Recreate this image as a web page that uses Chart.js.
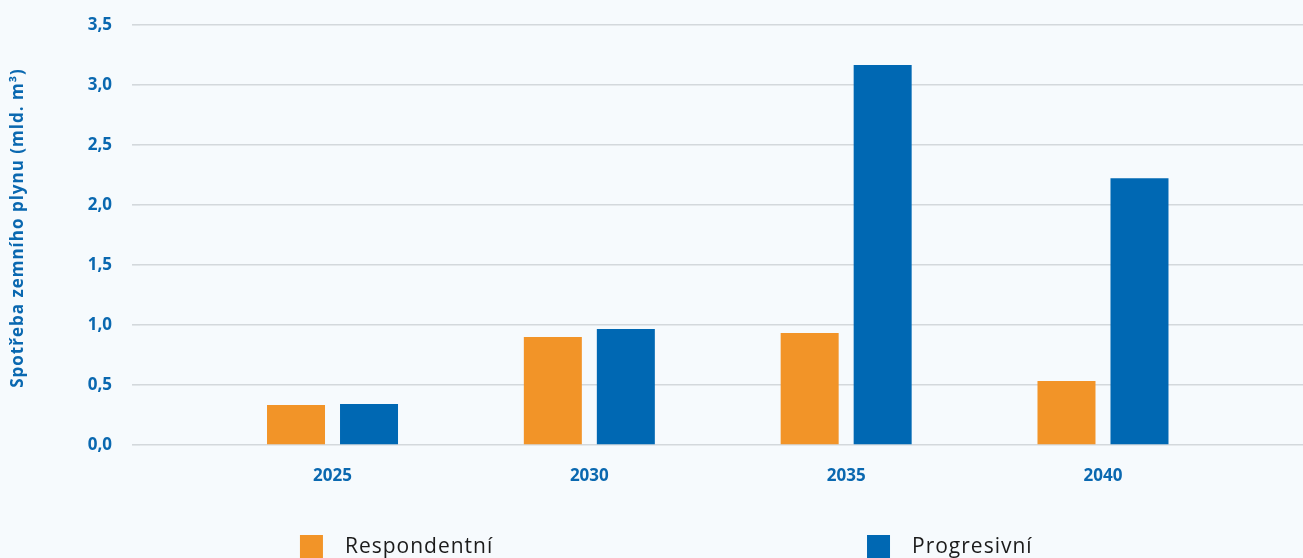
<!DOCTYPE html>
<html lang="cs">
<head>
<meta charset="utf-8">
<script src="https://cdn.jsdelivr.net/npm/chart.js@4/dist/chart.umd.min.js"></script>
<style>
  html, body { margin: 0; padding: 0; background: #f6fafd; overflow: hidden; }
  #wrap { position: relative; width: 1303px; height: 558px; }
</style>
</head>
<body>
<div id="wrap"><canvas id="chart" width="1303" height="558"></canvas></div>
<script>
// Spotřeba zemního plynu podle scénáře
const years = [2025, 2030, 2035, 2040];
const respondentni = [0.333, 0.90, 0.933, 0.533];
const progresivni = [0.342, 0.967, 3.167, 2.222];
const seriesNames = ['Respondentní', 'Progresivní'];
const yTicks = [0, 0.5, 1.0, 1.5, 2.0, 2.5, 3.0, 3.5];

const ORANGE = '#f29428';
const BLUE = '#0068b3';
const TEXT_BLUE = '#0a68b0';
const GRID = '#d3d8dc';
const FONT = "'Open Sans', 'Noto Sans', sans-serif";

const fmt = v => v.toFixed(1).replace('.', ',');

// Legend drawn under the axis, items spread across the width
const spreadLegend = {
  id: 'spreadLegend',
  afterDraw(chart) {
    const ctx = chart.ctx;
    const W = chart.width;
    const slots = [0.2302, 0.6654];
    ctx.save();
    chart.data.datasets.forEach((ds, i) => {
      const x = W * slots[i];
      const y = chart.height - 23;
      ctx.fillStyle = ds.backgroundColor;
      ctx.fillRect(x, y, 23, 23);
      ctx.fillStyle = '#1b1b1b';
      ctx.font = `400 21px ${FONT}`;
      ctx.letterSpacing = '1px';
      ctx.textBaseline = 'alphabetic';
      ctx.textAlign = 'left';
      ctx.fillText(ds.label, x + 45, chart.height - 5);
    });
    ctx.restore();
  }
};

// Axis title gets a little tracking and sits slightly above centre
function spacedTitle(scale) {
  if (scale.$spaced) return;
  const draw = scale.drawTitle;
  scale.drawTitle = function () {
    this.ctx.save();
    this.ctx.letterSpacing = '1px';
    this.ctx.translate(0, -7);
    draw.call(this);
    this.ctx.restore();
  };
  scale.$spaced = true;
}

new Chart(document.getElementById('chart'), {
  type: 'bar',
  data: {
    datasets: [
      {
        label: seriesNames[0],
        data: years.map((y, i) => ({ x: y, y: respondentni[i] })),
        backgroundColor: ORANGE,
        categoryPercentage: 0.5685,
        barPercentage: 0.7945
      },
      {
        label: seriesNames[1],
        data: years.map((y, i) => ({ x: y, y: progresivni[i] })),
        backgroundColor: BLUE,
        categoryPercentage: 0.5685,
        barPercentage: 0.7945
      }
    ]
  },
  options: {
    responsive: false,
    animation: false,
    layout: { padding: { top: 25, right: 0, bottom: 0, left: 0 } },
    plugins: {
      legend: { display: false },
      tooltip: { enabled: false }
    },
    scales: {
      x: {
        type: 'linear',
        offset: false,
        min: 2021.252,
        max: 2043.894,
        afterBuildTicks: s => { s.ticks = years.map(v => ({ value: v })); },
        afterFit: s => { s.height = 113; },
        grid: { display: false, drawTicks: false, offset: false },
        border: { display: false },
        ticks: {
          color: TEXT_BLUE,
          font: { family: FONT, size: 17, weight: 'bold' },
          padding: 21,
          maxRotation: 0,
          callback: v => String(v)
        }
      },
      y: {
        min: 0,
        max: 3.5,
        afterBuildTicks: s => { s.ticks = yTicks.map(v => ({ value: v })); },
        afterFit: s => {
          s.width = 140;
          s.paddingTop = 10;
          s.paddingBottom = 10;
          spacedTitle(s);
        },
        grid: { color: GRID, lineWidth: 1.6, tickLength: 8 },
        border: { display: false },
        ticks: {
          color: TEXT_BLUE,
          font: { family: FONT, size: 17, weight: 'bold' },
          padding: 20,
          callback: v => fmt(v)
        },
        title: {
          display: true,
          text: 'Spotřeba zemního plynu (mld. m³)',
          color: TEXT_BLUE,
          font: { family: FONT, size: 17, weight: 'bold' },
          padding: { top: 8, bottom: 0 }
        }
      }
    }
  },
  plugins: [spreadLegend]
});
</script>
</body>
</html>
